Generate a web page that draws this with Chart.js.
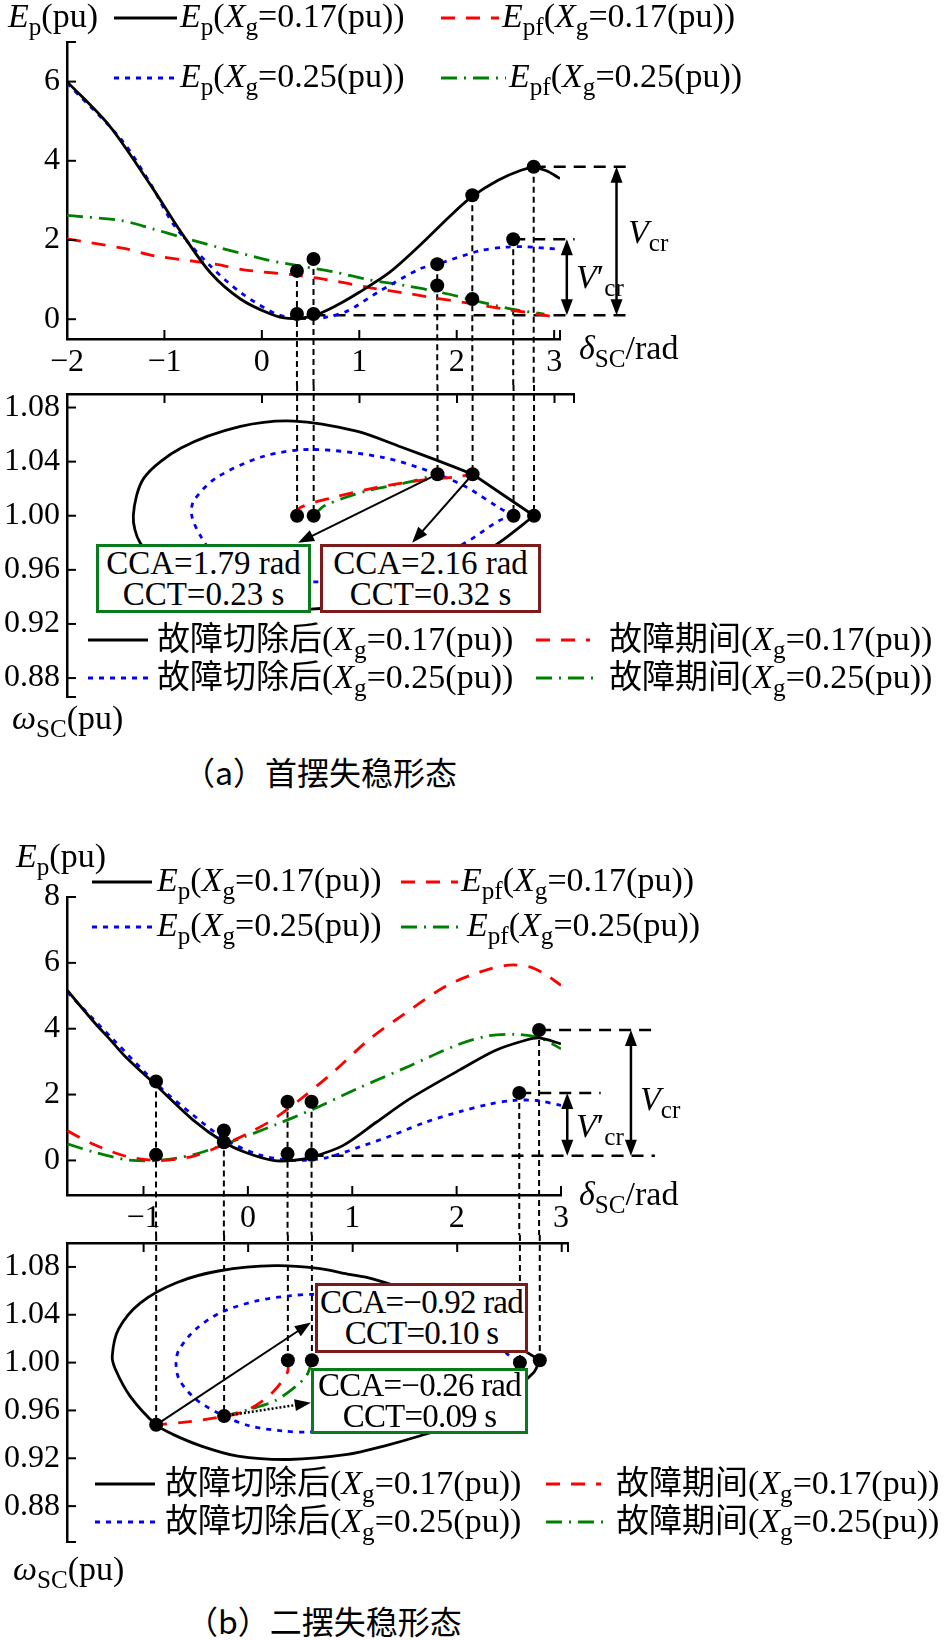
<!DOCTYPE html>
<html>
<head>
<meta charset="utf-8">
<title>首摆失稳形态 / 二摆失稳形态</title>
<script src="https://cdn.jsdelivr.net/npm/chart.js@4.4.1/dist/chart.umd.min.js"></script>
<style>
  body { margin: 0; background: #fff; }
  #page { position: relative; width: 946px; height: 1640px; overflow: hidden; background: #fff;
          font-family: 'Liberation Serif', 'Times New Roman', serif; color: #000; }
  #page canvas { position: absolute; left: 0; }
  .t { position: absolute; white-space: nowrap; font-size: 34px; line-height: 1; z-index: 3; }
  .t sub { font-size: 0.74em; vertical-align: -0.32em; line-height: 0; }
  .zh { font-family: 'Noto Sans CJK SC', sans-serif; font-size: 33px; }
  .cap { font-family: 'Noto Sans CJK SC', sans-serif; font-size: 32px; }
  .box { position: absolute; z-index: 2; background: #fff; border: 3px solid; box-sizing: border-box;
         display: flex; flex-direction: column; justify-content: center; align-items: center;
         font-size: 33px; line-height: 31px; white-space: nowrap; }
  .sw { position: absolute; z-index: 3; }
</style>
</head>
<body>
<div id="page">
  <canvas id="a1" width="946" height="385" style="top:0px"></canvas>
  <canvas id="a2" width="946" height="335" style="top:385px"></canvas>
  <canvas id="b1" width="946" height="435" style="top:800px"></canvas>
  <canvas id="b2" width="946" height="355" style="top:1235px"></canvas>
</div>
<script>
// 刻度
const xTicksA = [-2, -1, 0, 1, 2, 3];
const xTicksB = [-1, 0, 1, 2, 3];
const yTicksEpA = [0, 2, 4, 6];
const yTicksEpB = [0, 2, 4, 6, 8];
const yTicksW = [0.88, 0.92, 0.96, 1.00, 1.04, 1.08];

// (a) 首摆失稳: 势能曲线 [δ, Ep]
const aEp17 = [[-2,6.0],[-1.57,4.9],[-1.14,3.38],[-0.83,2.2],[-0.53,1.18],[-0.22,0.51],[0.09,0.13],[0.27,0.02],[0.52,0.08],[0.76,0.34],[1.0,0.68],[1.31,1.18],[1.62,1.86],[1.93,2.6],[2.15,3.08],[2.42,3.5],[2.66,3.76],[2.79,3.82],[2.92,3.75],[3.06,3.55]];
const aEp25 = [[-2,5.96],[-1.45,4.56],[-1.15,3.45],[-0.9,2.37],[-0.53,1.35],[-0.22,0.68],[0.15,0.13],[0.39,0.02],[0.64,0.04],[0.88,0.21],[1.19,0.68],[1.62,1.27],[1.8,1.39],[2.24,1.73],[2.5,1.82],[2.7,1.83],[3.03,1.77]];
const aEpf17 = [[-2,2.03],[-1.4,1.78],[-1.1,1.6],[-0.45,1.38],[-0.2,1.25],[0.39,1.1],[0.76,0.96],[1.1,0.8],[1.47,0.66],[1.79,0.53],[2.14,0.4],[2.5,0.25],[2.8,0.14],[3.05,0.04]];
const aEpf25 = [[-2,2.62],[-1.44,2.49],[-1.12,2.28],[-0.85,2.09],[-0.47,1.83],[0.05,1.5],[0.4,1.34],[0.73,1.2],[1.09,1.0],[1.47,0.85],[1.83,0.68],[2.27,0.42],[2.6,0.24],[2.9,0.13]];
const aDotsE = [[0.36,1.22],[0.36,0.13],[0.53,1.52],[0.53,0.13],[1.8,1.39],[1.8,0.85],[2.16,3.13],[2.16,0.51],[2.58,2.02],[2.79,3.85]];
// (a) 相轨迹 [δ, ω]
const aW17 = [[2.79,1.0],[2.41,0.979],[2.0,0.962],[1.5,0.946],[1.0,0.936],[0.5,0.931],[0.0,0.934],[-0.5,0.943],[-0.95,0.958],[-1.25,0.98],[-1.32,1.0],[-1.21,1.028],[-0.83,1.05],[-0.22,1.066],[0.33,1.07],[0.97,1.0625],[1.42,1.051],[1.83,1.040],[2.16,1.0307],[2.79,1.0]];
const aW25 = [[2.58,1.0],[2.43,0.9963],[2.06,0.979],[1.5,0.962],[1.0,0.954],[0.48,0.951],[-0.1,0.954],[-0.45,0.968],[-0.63,0.985],[-0.72,1.0],[-0.7,1.011],[-0.47,1.028],[0.02,1.044],[0.52,1.049],[1.25,1.043],[1.8,1.0307],[2.1,1.021],[2.43,1.006],[2.58,1.0]];
const aWf17 = [[0.36,1.0],[0.39,1.006],[0.73,1.0135],[1.18,1.0209],[1.59,1.0258],[2.0,1.0288],[2.16,1.0307]];
const aWf25 = [[0.53,1.0],[0.64,1.0074],[1.08,1.0185],[1.49,1.0246],[1.8,1.0307]];
const aDotsW = [[0.36,1.0],[0.53,1.0],[1.8,1.0307],[2.16,1.0307],[2.58,1.0],[2.79,1.0]];
const aCCA = [1.79, 2.16];
const aCCT = [0.23, 0.32];

// (b) 二摆失稳
const bEp17 = [[-1.73,5.16],[-1.46,4.15],[-1.32,3.67],[-1.17,3.14],[-0.88,2.28],[-0.53,1.24],[-0.23,0.55],[-0.02,0.24],[0.24,0.0],[0.43,0.0],[0.61,0.1],[0.91,0.45],[1.23,1.16],[1.55,1.87],[2.03,2.75],[2.37,3.34],[2.66,3.65],[2.79,3.72],[3.0,3.54]];
const bEp25 = [[-1.73,5.11],[-1.29,3.67],[-0.85,2.25],[-0.53,1.39],[-0.21,0.62],[0.11,0.17],[0.43,0.0],[0.75,0.08],[1.07,0.41],[1.39,0.77],[1.71,1.17],[2.03,1.48],[2.3,1.7],[2.54,1.82],[2.77,1.82],[3.0,1.67]];
const bEpf17 = [[-1.73,0.9],[-1.48,0.49],[-1.16,0.12],[-0.85,0.0],[-0.53,0.12],[-0.27,0.43],[-0.02,0.79],[0.24,1.24],[0.5,1.85],[0.81,2.66],[1.16,3.67],[1.5,4.45],[1.9,5.3],[2.25,5.75],[2.5,5.93],[2.7,5.88],[2.85,5.65],[3.0,5.32]];
const bEpf25 = [[-1.73,0.5],[-1.48,0.26],[-1.16,0.02],[-0.85,0.0],[-0.53,0.17],[-0.27,0.43],[-0.02,0.73],[0.27,1.09],[0.62,1.55],[1.07,2.21],[1.55,2.87],[2.0,3.5],[2.3,3.78],[2.55,3.83],[2.8,3.72],[3.0,3.39]];
const bDotsE = [[-0.88,2.4],[-0.88,0.17],[-0.23,0.91],[-0.23,0.55],[0.38,1.78],[0.38,0.2],[0.61,1.78],[0.61,0.17],[2.6,2.05],[2.79,3.96]];
const bW17 = [[2.79,1.002],[2.73,0.9916],[2.4,0.968],[2.0,0.949],[1.64,0.9386],[1.29,0.93],[0.95,0.9232],[0.39,0.919],[-0.1,0.9218],[-0.44,0.93],[-0.72,0.94],[-0.88,0.948],[-1.13,0.972],[-1.27,0.9944],[-1.3,1.0056],[-1.24,1.028],[-1.03,1.05],[-0.68,1.067],[-0.27,1.0768],[0.26,1.081],[0.67,1.0787],[0.95,1.074],[1.19,1.07],[1.6,1.058],[2.05,1.04],[2.45,1.02],[2.79,1.002]];
const bW25 = [[2.6,1.0],[2.3,0.98],[1.8,0.962],[1.2,0.948],[0.6,0.942],[0.33,0.9428],[0.02,0.947],[-0.23,0.9553],[-0.5,0.9693],[-0.66,0.986],[-0.69,1.0],[-0.66,1.011],[-0.5,1.028],[-0.26,1.042],[0.08,1.0516],[0.39,1.0558],[0.65,1.057],[1.2,1.052],[1.8,1.04],[2.3,1.022],[2.5,1.0056],[2.6,1.0]];
const bWf17 = [[0.38,1.002],[0.375,0.9916],[0.215,0.9735],[-0.025,0.9595],[-0.295,0.954],[-0.645,0.9498],[-0.88,0.948]];
const bWf25 = [[0.61,1.002],[0.565,0.99],[0.455,0.98],[0.255,0.968],[0.015,0.961],[-0.23,0.9553]];
const bDotsW = [[-0.88,0.948],[-0.23,0.9553],[0.38,1.002],[0.61,1.002],[2.6,1.0],[2.79,1.002]];
const bCCA = [-0.92, -0.26];
const bCCT = [0.10, 0.09];

// 标注 [δ起, δ止, Ep] / [δ, Ep起, Ep止] / [δ0, ω0, δ1, ω1]
const aHLines = [[0.53,3.8,0.10],[2.79,3.8,3.85],[2.58,3.21,2.02]];
const aVArrows = [[3.64,3.85,0.10],[3.13,2.02,0.10]];
const aArrows = [[1.8,1.0307,0.37,0.98],[2.16,1.0307,1.54,0.98]];
const bHLines = [[0.61,3.9,0.14],[2.79,3.9,3.96],[2.6,3.38,2.05]];
const bVArrows = [[3.67,3.96,0.14],[3.06,2.05,0.14]];
const bArrows = [[-0.88,0.948,0.6,1.0335]];
const bDotArrows = [[-0.23,0.9553,0.6,0.9665]];

const SERIF = "'Liberation Serif', 'Times New Roman', serif";
const STY = {
  k: { color: '#000000', dash: [] },
  r: { color: '#ff0000', dash: [14, 11] },
  b: { color: '#0000ff', dash: [5, 6] },
  g: { color: '#008000', dash: [16, 7, 2, 7] }
};

function pts(arr) { return arr.map(p => ({ x: p[0], y: p[1] })); }
function curve(arr, k) {
  return { data: pts(arr), showLine: true, borderColor: STY[k].color, borderDash: STY[k].dash,
           borderWidth: 2.8, pointRadius: 0, tension: 0.3, fill: false };
}
function dots(arr) {
  return { data: pts(arr), showLine: false, pointRadius: 7, pointHoverRadius: 7,
           pointBackgroundColor: '#000', pointBorderWidth: 0, order: -1 };
}
function minus(v) { return (v < 0 ? '\u2212' : '') + Math.abs(v); }
function tops(dotsE) {
  const m = {};
  dotsE.forEach(([d, v]) => { m[d] = Math.max(m[d] === undefined ? -1e9 : m[d], v); });
  return Object.keys(m).map(d => [+d, m[d]]);
}

const DECO = {};

function seg(ctx, x0, y0, x1, y1) { ctx.beginPath(); ctx.moveTo(x0, y0); ctx.lineTo(x1, y1); ctx.stroke(); }
function head(ctx, x0, y0, x1, y1) {
  const a = Math.atan2(y1 - y0, x1 - x0), L = 16, h = 6;
  ctx.beginPath();
  ctx.moveTo(x1, y1);
  ctx.lineTo(x1 - L * Math.cos(a) + h * Math.sin(a), y1 - L * Math.sin(a) - h * Math.cos(a));
  ctx.lineTo(x1 - L * Math.cos(a) - h * Math.sin(a), y1 - L * Math.sin(a) + h * Math.cos(a));
  ctx.closePath(); ctx.fill();
  return [x1 - (L - 2) * Math.cos(a), y1 - (L - 2) * Math.sin(a)];
}

const deco = {
  id: 'deco',
  beforeDatasetsDraw(chart) {
    const d = DECO[chart.canvas.id]; if (!d) return;
    const { ctx } = chart, X = chart.scales.x, Y = chart.scales.y;
    ctx.save();
    ctx.strokeStyle = '#000'; ctx.fillStyle = '#000';
    ctx.lineWidth = 2; ctx.setLineDash([6, 4]);
    (d.down || []).forEach(([x, v]) => seg(ctx, X.getPixelForValue(x), Y.getPixelForValue(v), X.getPixelForValue(x), chart.height));
    (d.up || []).forEach(([x, v]) => seg(ctx, X.getPixelForValue(x), 0, X.getPixelForValue(x), Y.getPixelForValue(v)));
    ctx.lineWidth = 2.5; ctx.setLineDash([12, 8]);
    (d.hlines || []).forEach(([x0, x1, v]) => seg(ctx, X.getPixelForValue(x0), Y.getPixelForValue(v), X.getPixelForValue(x1), Y.getPixelForValue(v)));
    ctx.restore();
  },
  afterDatasetsDraw(chart) {
    const d = DECO[chart.canvas.id]; if (!d) return;
    const { ctx, chartArea: ca } = chart, X = chart.scales.x, Y = chart.scales.y;
    ctx.save();
    ctx.strokeStyle = '#000'; ctx.fillStyle = '#000'; ctx.setLineDash([]);
    // 内向刻度
    ctx.lineWidth = 2;
    d.xt.forEach(v => {
      const p = X.getPixelForValue(v);
      if (d.side === 'bottom') seg(ctx, p, ca.bottom, p, ca.bottom - 9); else seg(ctx, p, ca.top, p, ca.top + 9);
    });
    d.yt.forEach(v => { const p = Y.getPixelForValue(v); seg(ctx, ca.left, p, ca.left + 9, p); });
    // 双向箭头 Vcr
    ctx.lineWidth = 2.5;
    (d.varrows || []).forEach(([x, v0, v1]) => {
      const px = X.getPixelForValue(x), p0 = Y.getPixelForValue(v0), p1 = Y.getPixelForValue(v1);
      head(ctx, px, p1, px, p0); head(ctx, px, p0, px, p1);
      seg(ctx, px, p0 + 12, px, p1 - 12);
    });
    ctx.lineWidth = 2;
    (d.arrows || []).forEach(([x0, v0, x1, v1]) => {
      const a = [X.getPixelForValue(x0), Y.getPixelForValue(v0)], b = [X.getPixelForValue(x1), Y.getPixelForValue(v1)];
      const e = head(ctx, a[0], a[1], b[0], b[1]);
      seg(ctx, a[0], a[1], e[0], e[1]);
    });
    ctx.lineWidth = 2.5;
    (d.dotArrows || []).forEach(([x0, v0, x1, v1]) => {
      const a = [X.getPixelForValue(x0), Y.getPixelForValue(v0)], b = [X.getPixelForValue(x1), Y.getPixelForValue(v1)];
      const e = head(ctx, a[0], a[1], b[0], b[1]);
      ctx.setLineDash([2, 2]); seg(ctx, a[0], a[1], e[0], e[1]); ctx.setLineDash([]);
    });
    ctx.restore();
  }
};

function noPad(ax) { ax.paddingTop = 0; ax.paddingBottom = 0; ax.paddingLeft = 0; ax.paddingRight = 0; }

function makeChart(id, c) {
  const cv = document.getElementById(id);
  const W = cv.width, H = cv.height, bottom = c.side === 'bottom';
  const font = { family: SERIF, size: 32 };
  return new Chart(cv, {
    type: 'scatter',
    data: { datasets: c.datasets },
    options: {
      responsive: false, animation: false, devicePixelRatio: 1,
      layout: { padding: { left: 0, right: W - c.area.right, top: bottom ? c.area.top : 0, bottom: bottom ? 0 : H - c.area.bottom } },
      plugins: { legend: { display: false }, tooltip: { enabled: false } },
      events: [],
      scales: {
        x: {
          type: 'linear', position: c.side, min: c.x[0], max: c.x[1],
          afterBuildTicks: ax => { ax.ticks = c.xTicks.map(v => ({ value: v })); },
          afterFit: ax => { ax.height = bottom ? H - c.area.bottom : c.area.top; noPad(ax); },
          grid: { display: false, drawTicks: false },
          border: { display: true, color: '#000', width: 2.5 },
          ticks: { display: bottom, color: '#000', padding: 4, maxRotation: 0, autoSkip: false, font, callback: v => minus(v) }
        },
        y: {
          type: 'linear', position: 'left', min: c.y[0], max: c.y[1],
          afterBuildTicks: ax => { ax.ticks = c.yTicks.map(v => ({ value: v })); },
          afterFit: ax => { ax.width = c.area.left; noPad(ax); },
          grid: { display: false, drawTicks: false },
          border: { display: true, color: '#000', width: 2.5 },
          ticks: { color: '#000', padding: 7, autoSkip: false, font, callback: c.yFmt }
        }
      }
    },
    plugins: [deco]
  });
}

// ---- (a) ----
DECO.a1 = { side: 'bottom', xt: xTicksA.concat([3.06]), yt: yTicksEpA.concat([7]), down: tops(aDotsE), hlines: aHLines, varrows: aVArrows };
makeChart('a1', {
  side: 'bottom', area: { left: 67, right: 560, top: 42, bottom: 339 }, x: [-2, 3.06], y: [-0.5, 7],
  xTicks: xTicksA, yTicks: yTicksEpA, yFmt: v => String(v),
  datasets: [dots(aDotsE), curve(aEp17, 'k'), curve(aEpf17, 'r'), curve(aEp25, 'b'), curve(aEpf25, 'g')]
});
DECO.a2 = { side: 'top', xt: xTicksA.concat([3.2]), yt: yTicksW.concat([0.866]), up: aDotsW, arrows: aArrows };
makeChart('a2', {
  side: 'top', area: { left: 67, right: 574, top: 9, bottom: 312 }, x: [-2, 3.2], y: [0.866, 1.09],
  xTicks: xTicksA, yTicks: yTicksW, yFmt: v => v.toFixed(2),
  // 切除点处轨迹折向不稳定平衡点, 故分两段绘制
  datasets: [dots(aDotsW), curve(aW17.slice(0, -1), 'k'), curve(aW17.slice(-2), 'k'), curve(aWf17, 'r'), curve(aW25, 'b'), curve(aWf25, 'g')]
});

// ---- (b) ----
DECO.b1 = { side: 'bottom', xt: xTicksB.concat([3.0]), yt: yTicksEpB, down: tops(bDotsE), hlines: bHLines, varrows: bVArrows };
makeChart('b1', {
  side: 'bottom', area: { left: 67, right: 561, top: 97, bottom: 395 }, x: [-1.733, 3.0], y: [-1.05, 8],
  xTicks: xTicksB, yTicks: yTicksEpB, yFmt: v => String(v),
  datasets: [dots(bDotsE), curve(bEp17, 'k'), curve(bEpf17, 'r'), curve(bEp25, 'b'), curve(bEpf25, 'g')]
});
DECO.b2 = { side: 'top', xt: xTicksB.concat([3.06]), yt: yTicksW.concat([0.85]), up: bDotsW, arrows: bArrows, dotArrows: bDotArrows };
makeChart('b2', {
  side: 'top', area: { left: 67, right: 568, top: 8, bottom: 307 }, x: [-1.733, 3.06], y: [0.85, 1.10],
  xTicks: xTicksB, yTicks: yTicksW, yFmt: v => v.toFixed(2),
  datasets: [dots(bDotsW), curve(bW17, 'k'), curve(bWf17, 'r'), curve(bW25, 'b'), curve(bWf25, 'g')]
});

// ---- 文字 ----
const page = document.getElementById('page');
function place(html, left, base, cls) {
  const d = document.createElement('div');
  d.className = 't' + (cls ? ' ' + cls : '');
  d.innerHTML = html + '<span style="display:inline-block;width:0;height:0"></span>';
  d.style.left = left + 'px'; d.style.top = '0px';
  page.appendChild(d);
  d.style.top = (base - d.lastChild.offsetTop) + 'px';
}
function swatch(k, x0, x1, y) {
  const s = STY[k], w = x1 - x0;
  page.insertAdjacentHTML('beforeend',
    `<svg class="sw" style="left:${x0}px;top:${y - 5}px" width="${w}" height="10"><line x1="0" y1="5" x2="${w}" y2="5" stroke="${s.color}" stroke-width="2.8" stroke-dasharray="${s.dash.length ? s.dash.join(' ') : 'none'}"/></svg>`);
}
function box(lines, color, l, t, r, b, extra) {
  page.insertAdjacentHTML('beforeend',
    `<div class="box" style="left:${l}px;top:${t}px;width:${r - l}px;height:${b - t}px;border-color:${color};${extra || ''}">${lines.map(s => `<div>${s}</div>`).join('')}</div>`);
}
const fmt2 = v => (v < 0 ? '\u2212' : '') + Math.abs(v).toFixed(2);

const Xg = v => `(<i>X</i><sub>g</sub>=${v}(pu))`;
const LBL = {
  ep17: '<i>E</i><sub>p</sub>' + Xg('0.17'), epf17: '<i>E</i><sub>pf</sub>' + Xg('0.17'),
  ep25: '<i>E</i><sub>p</sub>' + Xg('0.25'), epf25: '<i>E</i><sub>pf</sub>' + Xg('0.25'),
  post17: '<span class="zh">故障切除后</span>' + Xg('0.17'), fault17: '<span class="zh">故障期间</span>' + Xg('0.17'),
  post25: '<span class="zh">故障切除后</span>' + Xg('0.25'), fault25: '<span class="zh">故障期间</span>' + Xg('0.25')
};
const EPU = '<i>E</i><sub>p</sub>(pu)';
const WPU = '<i>ω</i><sub>SC</sub>(pu)';
const DRAD = '<i>δ</i><sub>SC</sub>/rad';
const VCR = '<i>V</i><sub>cr</sub>';
const VCRP = '<i>V</i>′<sub>cr</sub>';

// (a) 上图
place(EPU, 8, 27);
swatch('k', 114, 177, 18); place(LBL.ep17, 180, 27);
swatch('r', 441, 499, 18); place(LBL.epf17, 502, 27);
swatch('b', 114, 177, 78); place(LBL.ep25, 180, 87);
swatch('g', 441, 506, 78); place(LBL.epf25, 509, 87);
place(DRAD, 579, 359);
place(VCR, 628, 243);
place(VCRP, 576, 288);
// (a) 下图
box([`CCA=${fmt2(aCCA[0])} rad`, `CCT=${aCCT[0].toFixed(2)} s`], '#0a7a1e', 96, 544, 311, 613);
box([`CCA=${fmt2(aCCA[1])} rad`, `CCT=${aCCT[1].toFixed(2)} s`], '#7d1a1a', 320, 544, 541, 613);
swatch('k', 88, 148, 640); place(LBL.post17, 157, 650);
swatch('r', 536, 590, 640); place(LBL.fault17, 609, 650);
swatch('b', 88, 148, 678); place(LBL.post25, 157, 688);
swatch('g', 536, 600, 678); place(LBL.fault25, 609, 688);
place(WPU, 12, 729);
place('（a）首摆失稳形态', 183, 785, 'cap');

// (b) 上图
place(EPU, 16, 867);
swatch('k', 92, 152, 882); place(LBL.ep17, 157, 891);
swatch('r', 401, 458, 882); place(LBL.epf17, 461, 891);
swatch('b', 92, 152, 927); place(LBL.ep25, 157, 936);
swatch('g', 401, 464, 927); place(LBL.epf25, 467, 936);
place(DRAD, 579, 1205);
place(VCR, 640, 1110);
place(VCRP, 576, 1137);
// (b) 下图
box([`CCA=${fmt2(bCCA[0])} rad`, `CCT=${bCCT[0].toFixed(2)} s`], '#7d1a1a', 315, 1283, 528, 1353, 'letter-spacing:-0.8px;');
box([`CCA=${fmt2(bCCA[1])} rad`, `CCT=${bCCT[1].toFixed(2)} s`], '#0a7a1e', 311, 1368, 528, 1434, 'letter-spacing:-0.8px;');
swatch('k', 95, 155, 1484); place(LBL.post17, 165, 1494);
swatch('r', 546, 601, 1484); place(LBL.fault17, 616, 1494);
swatch('b', 95, 155, 1522); place(LBL.post25, 165, 1532);
swatch('g', 546, 607, 1522); place(LBL.fault25, 616, 1532);
place(WPU, 13, 1580);
place('（b）二摆失稳形态', 186, 1634, 'cap');
</script>
</body>
</html>
